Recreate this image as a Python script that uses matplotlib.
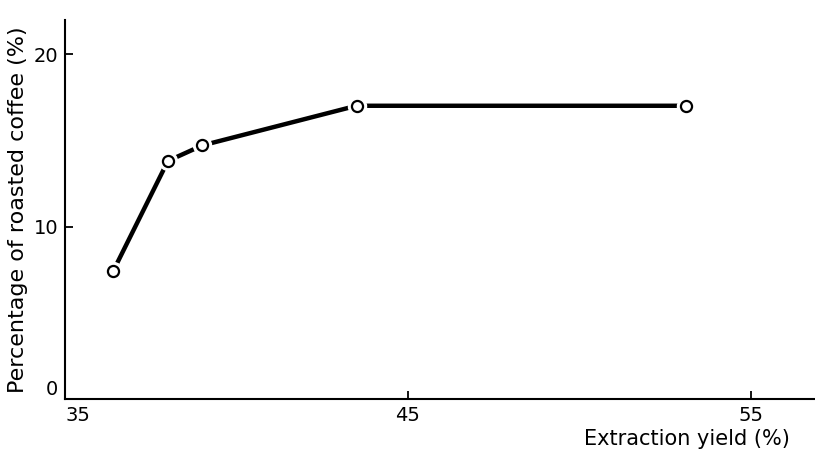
import matplotlib.pyplot as plt

# Data
extraction_yield = [36.4, 38.0, 39.0, 43.5, 53.1]
pct_roasted = [7.4, 13.8, 14.7, 17.0, 17.0]

x_ticks = [35, 45, 55]
y_ticks = [0, 10, 20]

plt.rcParams['font.family'] = 'DejaVu Sans'

fig = plt.figure(figsize=(8.15, 4.67), dpi=100)
ax = fig.add_axes([0.0798, 0.1456, 0.9202, 0.8115])

# line, then white halo so the segments stop short of the circles
ax.plot(extraction_yield, pct_roasted, color='black', linewidth=3.2,
        solid_capstyle='butt', zorder=2)
ax.plot(extraction_yield, pct_roasted, linestyle='none', marker='o',
        markersize=13, markerfacecolor='white', markeredgecolor='white', zorder=3)
ax.plot(extraction_yield, pct_roasted, linestyle='none', marker='o',
        markersize=8, markerfacecolor='white', markeredgecolor='black',
        markeredgewidth=1.6, zorder=4)

ax.set_xlim(35, 56.87)
ax.set_ylim(0, 21.97)
ax.set_xticks(x_ticks)
ax.set_yticks(y_ticks)

for side in ['top', 'right']:
    ax.spines[side].set_visible(False)
for side in ['left', 'bottom']:
    ax.spines[side].set_linewidth(1.5)

ax.tick_params(direction='in', length=6, width=1.3, labelsize=14, pad=5)

# keep the corner labels apart, as in the original
ax.get_xticklabels()[0].set_horizontalalignment('left')
ax.get_yticklabels()[0].set_verticalalignment('bottom')

ax.set_ylabel('Percentage of roasted coffee (%)', fontsize=16, labelpad=4)
ax.set_xlabel('Extraction yield (%)', fontsize=15, ha='right')
ax.xaxis.set_label_coords(0.967, -0.08)

plt.savefig('out.png', dpi=100)
